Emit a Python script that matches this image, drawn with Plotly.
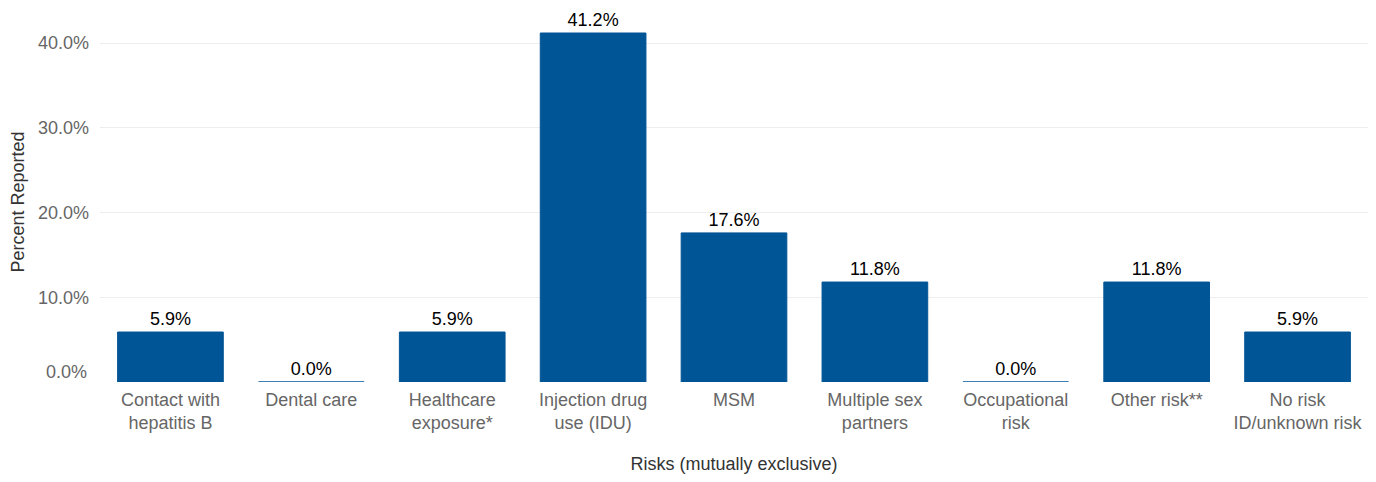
import plotly.graph_objects as go

categories = ["Contact with<br>hepatitis B", "Dental care", "Healthcare<br>exposure*",
              "Injection drug<br>use (IDU)", "MSM", "Multiple sex<br>partners",
              "Occupational<br>risk", "Other risk**", "No risk<br>ID/unknown risk"]
values = [5.9, 0.0, 5.9, 41.2, 17.6, 11.8, 0.0, 11.8, 5.9]
tick_vals = [0, 10, 20, 30, 40]
tick_text = ["0.0%", "10.0%", "20.0%", "30.0%", "40.0%"]

FONT = "Liberation Sans, Arial, sans-serif"

fig = go.Figure(go.Bar(
    x=categories, y=values,
    marker=dict(color="#005596", line=dict(color="#005596", width=1)),
    text=[f"{v:.1f}%" for v in values],
    textposition="outside",
    textfont=dict(color="#000000", size=18, family=FONT),
    cliponaxis=False,
    width=0.75,
))

# bottom tick label is lifted slightly in the reference
axis_text = [t if v != 0 else "" for v, t in zip(tick_vals, tick_text)]
fig.add_annotation(
    x=0, xref="paper", y=tick_vals[0], yref="y",
    text=tick_text[0], showarrow=False,
    xanchor="right", yanchor="middle", xshift=-11, yshift=10,
    font=dict(family=FONT, size=18, color="#666666"),
)

fig.update_layout(
    width=1360, height=466,
    margin=dict(l=92, r=0, t=14, b=92, autoexpand=False),
    paper_bgcolor="white", plot_bgcolor="white",
    font=dict(family=FONT, size=18, color="#666666"),
    showlegend=False,
    bargap=0.25,
)
fig.update_xaxes(
    title=dict(text="Risks (mutually exclusive)", font=dict(size=18, color="#333333"), standoff=35),
    tickfont=dict(size=18, color="#666666"),
    ticklabelstandoff=5,
    showgrid=False, showline=False, ticks="", automargin=False,
)
fig.update_yaxes(
    title=dict(text="Percent Reported", font=dict(size=18, color="#333333"), standoff=16),
    range=[0, 42.5],
    tickvals=tick_vals, ticktext=axis_text,
    tickfont=dict(size=18, color="#666666"),
    ticklabelstandoff=10,
    showgrid=True, gridcolor="#eeeeee", gridwidth=1,
    zeroline=False, showline=False, ticks="", automargin=False,
)

fig.write_html("out.html")
